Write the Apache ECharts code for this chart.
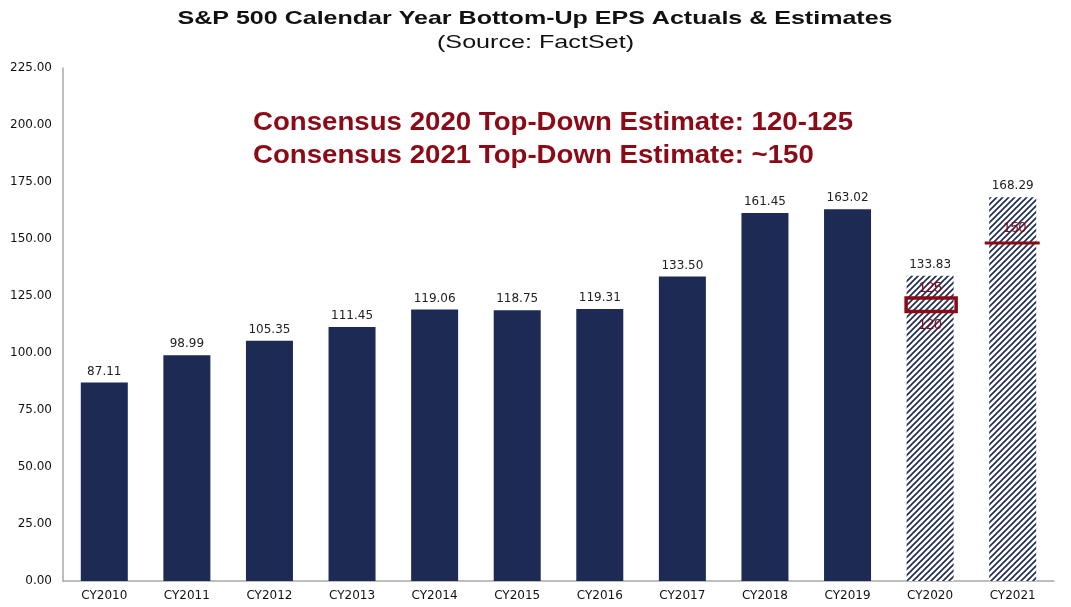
<!DOCTYPE html>
<html><head><meta charset="utf-8">
<script src="https://cdn.jsdelivr.net/npm/echarts@6/dist/echarts.min.js"></script>
<style>html,body{margin:0;padding:0;background:#fff}#c{width:1071px;height:607px}</style>
</head><body><div id="c"></div>
<script>
const categories = ['CY2010','CY2011','CY2012','CY2013','CY2014','CY2015','CY2016','CY2017','CY2018','CY2019','CY2020','CY2021'];
const epsValues = [87.11, 98.99, 105.35, 111.45, 119.06, 118.75, 119.31, 133.50, 161.45, 163.02, 133.83, 168.29];
const estimateFlags = [0,0,0,0,0,0,0,0,0,0,1,1];
const rangeMarks = [['CY2020', 120, 125]];
const lineMarks = [['CY2021', 150]];
const yTicks = [0, 25, 50, 75, 100, 125, 150, 175, 200, 225];
const titleText = 'S&P 500 Calendar Year Bottom-Up EPS Actuals & Estimates';
const subtitleText = '(Source: FactSet)';
const noteLines = ['Consensus 2020 Top-Down Estimate: 120-125', 'Consensus 2021 Top-Down Estimate: ~150'];

const NAVY = '#1c2a54';
const RED = '#8b0a16';
const LBL = '"DejaVu Sans"';
const RF = '14px "Liberation Sans"';

function hatch() {
  const c = document.createElement('canvas');
  c.width = 6; c.height = 6;
  const g = c.getContext('2d');
  g.fillStyle = '#fff'; g.fillRect(0,0,6,6);
  g.strokeStyle = NAVY; g.lineWidth = 1.6;
  g.beginPath();
  g.moveTo(-1,7); g.lineTo(7,-1);
  g.moveTo(-4,4); g.lineTo(4,-4);
  g.moveTo(2,10); g.lineTo(10,2);
  g.stroke();
  return c;
}
const pat = {image: hatch(), repeat: 'repeat'};

const mctx = document.createElement('canvas').getContext('2d');
function fitScale(text, font, target) {
  mctx.font = font;
  return target / mctx.measureText(text).width;
}
const TF = 'bold 19px "Liberation Sans"';
const SF = '19px "Liberation Sans"';
const NF = 'bold 26px "Liberation Sans"';
const nScale = fitScale(noteLines[0], NF, 600);

const chart = echarts.init(document.getElementById('c'));
chart.setOption({
  animation: false,
  graphic: [
    {type: 'text', x: 535, y: 19, scaleX: fitScale(titleText, TF, 715),
      style: {text: titleText, x: 0, y: 0, align: 'center', verticalAlign: 'middle', fill: '#111', font: TF}},
    {type: 'text', x: 535.5, y: 43, scaleX: fitScale(subtitleText, SF, 197),
      style: {text: subtitleText, x: 0, y: 0, align: 'center', verticalAlign: 'middle', fill: '#111', font: SF}},
    {type: 'text', x: 253, y: 123, scaleX: nScale,
      style: {text: noteLines[0], x: 0, y: 0, align: 'left', verticalAlign: 'middle', fill: RED, font: NF}},
    {type: 'text', x: 253, y: 156, scaleX: nScale,
      style: {text: noteLines[1], x: 0, y: 0, align: 'left', verticalAlign: 'middle', fill: RED, font: NF}}
  ],
  grid: {left: 63, right: 17, top: 68, bottom: 26},
  xAxis: {
    type: 'category', data: categories,
    axisLine: {lineStyle: {color: '#a8a8a8', width: 1.5}},
    axisTick: {show: false},
    axisLabel: {fontFamily: LBL, fontSize: 12, color: '#111', margin: 9}
  },
  yAxis: {
    type: 'value', min: 0, max: 225, interval: 25,
    axisLine: {show: true, lineStyle: {color: '#a8a8a8', width: 1.5}},
    axisTick: {show: false},
    splitLine: {show: false},
    axisLabel: {fontFamily: LBL, fontSize: 12, color: '#111', margin: 11,
      formatter: v => yTicks.includes(v) ? v.toFixed(2) : ''}
  },
  series: [
    {
      type: 'bar', barWidth: 47,
      data: epsValues.map((v, i) => ({
        value: v,
        itemStyle: {color: estimateFlags[i] ? pat : NAVY}
      })),
      label: {show: true, position: 'top', distance: 5, fontFamily: LBL, fontSize: 12, color: '#222',
        formatter: p => p.value.toFixed(2)}
    },
    {
      type: 'custom', z: 10,
      data: rangeMarks.map(r => [r[0], r[1], r[2]]),
      renderItem: (params, api) => {
        const lo = api.coord([api.value(0), api.value(1)]);
        const hi = api.coord([api.value(0), api.value(2)]);
        const w = 50;
        return {type: 'group', children: [
          {type: 'rect', shape: {x: lo[0] - w/2 + 1, y: hi[1] + 2, width: w, height: lo[1] - hi[1] + 2},
            style: {fill: null, stroke: RED, lineWidth: 3.5}},
          {type: 'text', style: {text: String(api.value(2)), x: lo[0], y: hi[1] - 8, align: 'center', verticalAlign: 'middle', fill: RED, font: RF}},
          {type: 'text', style: {text: String(api.value(1)), x: lo[0], y: lo[1] + 18, align: 'center', verticalAlign: 'middle', fill: RED, font: RF}}
        ]};
      }
    },
    {
      type: 'custom', z: 10,
      data: lineMarks.map(r => [r[0], r[1]]),
      renderItem: (params, api) => {
        const p = api.coord([api.value(0), api.value(1)]);
        return {type: 'group', children: [
          {type: 'line', shape: {x1: p[0] - 28, y1: p[1] + 4, x2: p[0] + 27, y2: p[1] + 4}, style: {stroke: RED, lineWidth: 3}},
          {type: 'text', style: {text: String(api.value(1)), x: p[0] + 2, y: p[1] - 11, align: 'center', verticalAlign: 'middle', fill: RED, font: RF}}
        ]};
      }
    }
  ]
});
</script></body></html>
